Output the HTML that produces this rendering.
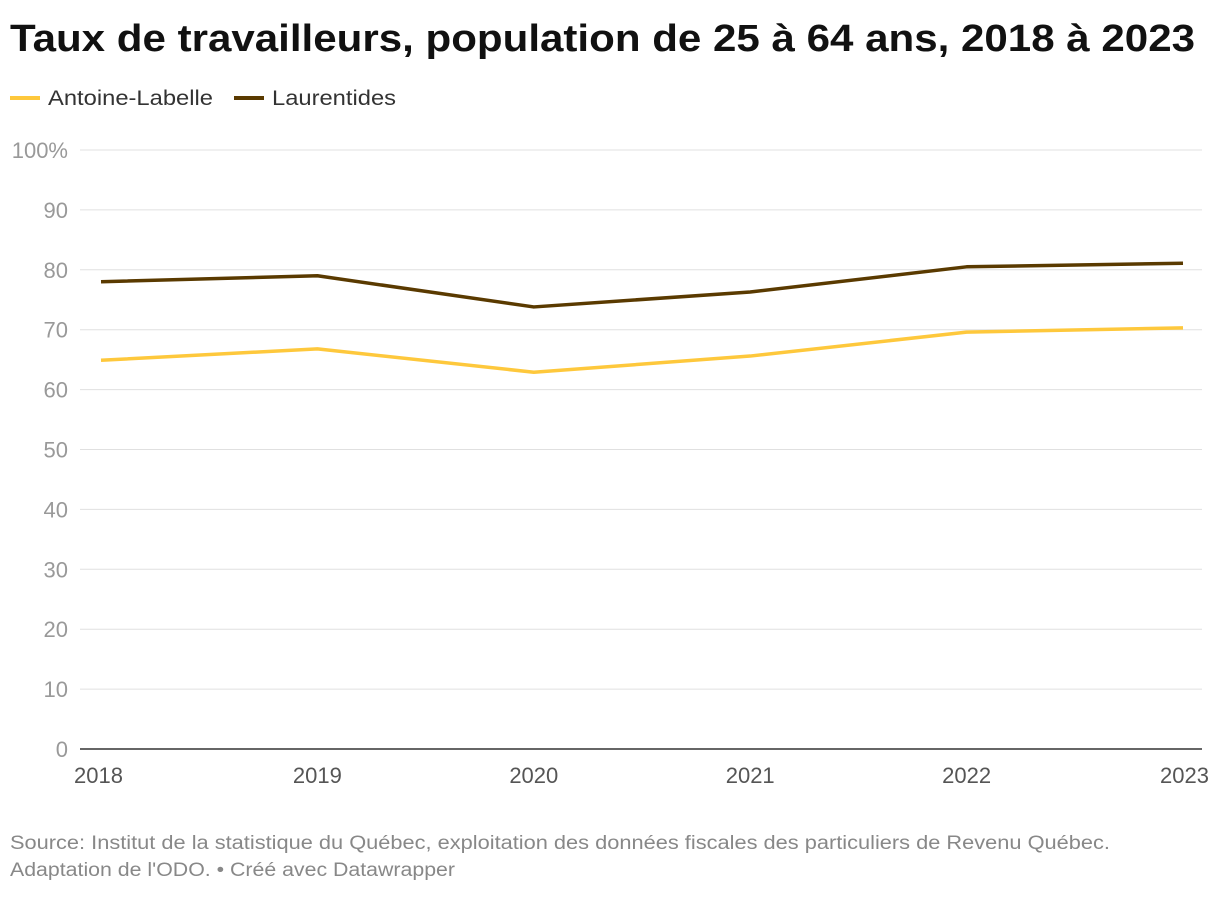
<!DOCTYPE html>
<html><head><meta charset="utf-8">
<style>
body{margin:0;width:1220px;height:892px;background:#fff;font-family:"Liberation Sans",sans-serif;overflow:hidden}
</style></head>
<body>
<svg id="chart" width="1220" height="892" xmlns="http://www.w3.org/2000/svg" font-family="Liberation Sans, sans-serif">
<text x="10" y="51" font-size="38" font-weight="bold" fill="#111" textLength="1185" lengthAdjust="spacingAndGlyphs">Taux de travailleurs, population de 25 à 64 ans, 2018 à 2023</text>
<g>
<line x1="10" y1="98" x2="40" y2="98" stroke="#fec83c" stroke-width="4"/>
<text x="48" y="105" font-size="21" fill="#333" textLength="165" lengthAdjust="spacingAndGlyphs">Antoine-Labelle</text>
<line x1="234" y1="98" x2="264" y2="98" stroke="#5a3a00" stroke-width="4"/>
<text x="272" y="105" font-size="21" fill="#333" textLength="124" lengthAdjust="spacingAndGlyphs">Laurentides</text>
</g>
<g id="grid"></g>
<g id="series"></g>
<g id="xaxis"></g>
<text x="10" y="849" font-size="19" fill="#888" textLength="1100" lengthAdjust="spacingAndGlyphs">Source: Institut de la statistique du Québec, exploitation des données fiscales des particuliers de Revenu Québec.</text>
<text x="10" y="876" font-size="19" fill="#888" textLength="445" lengthAdjust="spacingAndGlyphs">Adaptation de l'ODO. • Créé avec Datawrapper</text>
</svg>
<script>
const years = ["2018","2019","2020","2021","2022","2023"];
const antoineLabelle = [64.9,66.8,62.9,65.6,69.6,70.3];
const laurentides = [78.0,79.0,73.8,76.3,80.5,81.1];
const yTicks = [0,10,20,30,40,50,60,70,80,90,100];
const yTickLabels = ["0","10","20","30","40","50","60","70","80","90","100%"];

const NS="http://www.w3.org/2000/svg";
const y = v => 749 - v*5.99;
const x = i => 101 + i*(1183-101)/(years.length-1);
function mk(tag, attrs, parent){const e=document.createElementNS(NS,tag);for(const k in attrs)e.setAttribute(k,attrs[k]);parent.appendChild(e);return e;}
const grid=document.getElementById('grid');
yTicks.forEach((t,i)=>{
  const l=mk('line',{x1:80,x2:1202,y1:y(t),y2:y(t),stroke:t===0?'#333':'#e0e0e0','stroke-width':t===0?1.5:1},grid);
  
  
  const tx=mk('text',{x:68,y:y(t)+8,'text-anchor':'end','font-size':22,fill:'#999'},grid);
  tx.textContent=yTickLabels[i];
  
  
});
const xa=document.getElementById('xaxis');
years.forEach((yr,i)=>{
  const anchor=i===0?'start':(i===years.length-1?'end':'middle');
  const xx=i===0?74:(i===years.length-1?1209:x(i));
  const t=mk('text',{x:xx,y:783,'text-anchor':anchor,'font-size':22,fill:'#555'},xa);
  t.textContent=yr;
  
  
});
const s=document.getElementById('series');
function line(data,color,name){
  const p=mk('path',{d:data.map((v,i)=>(i?'L':'M')+x(i)+' '+y(v)).join(' '),fill:'none',stroke:color,'stroke-width':3.5,'stroke-linejoin':'round'},s);
  
  
}
line(antoineLabelle,'#fec83c','line-antoine-labelle');
line(laurentides,'#5a3a00','line-laurentides');
</script>
</body></html>
